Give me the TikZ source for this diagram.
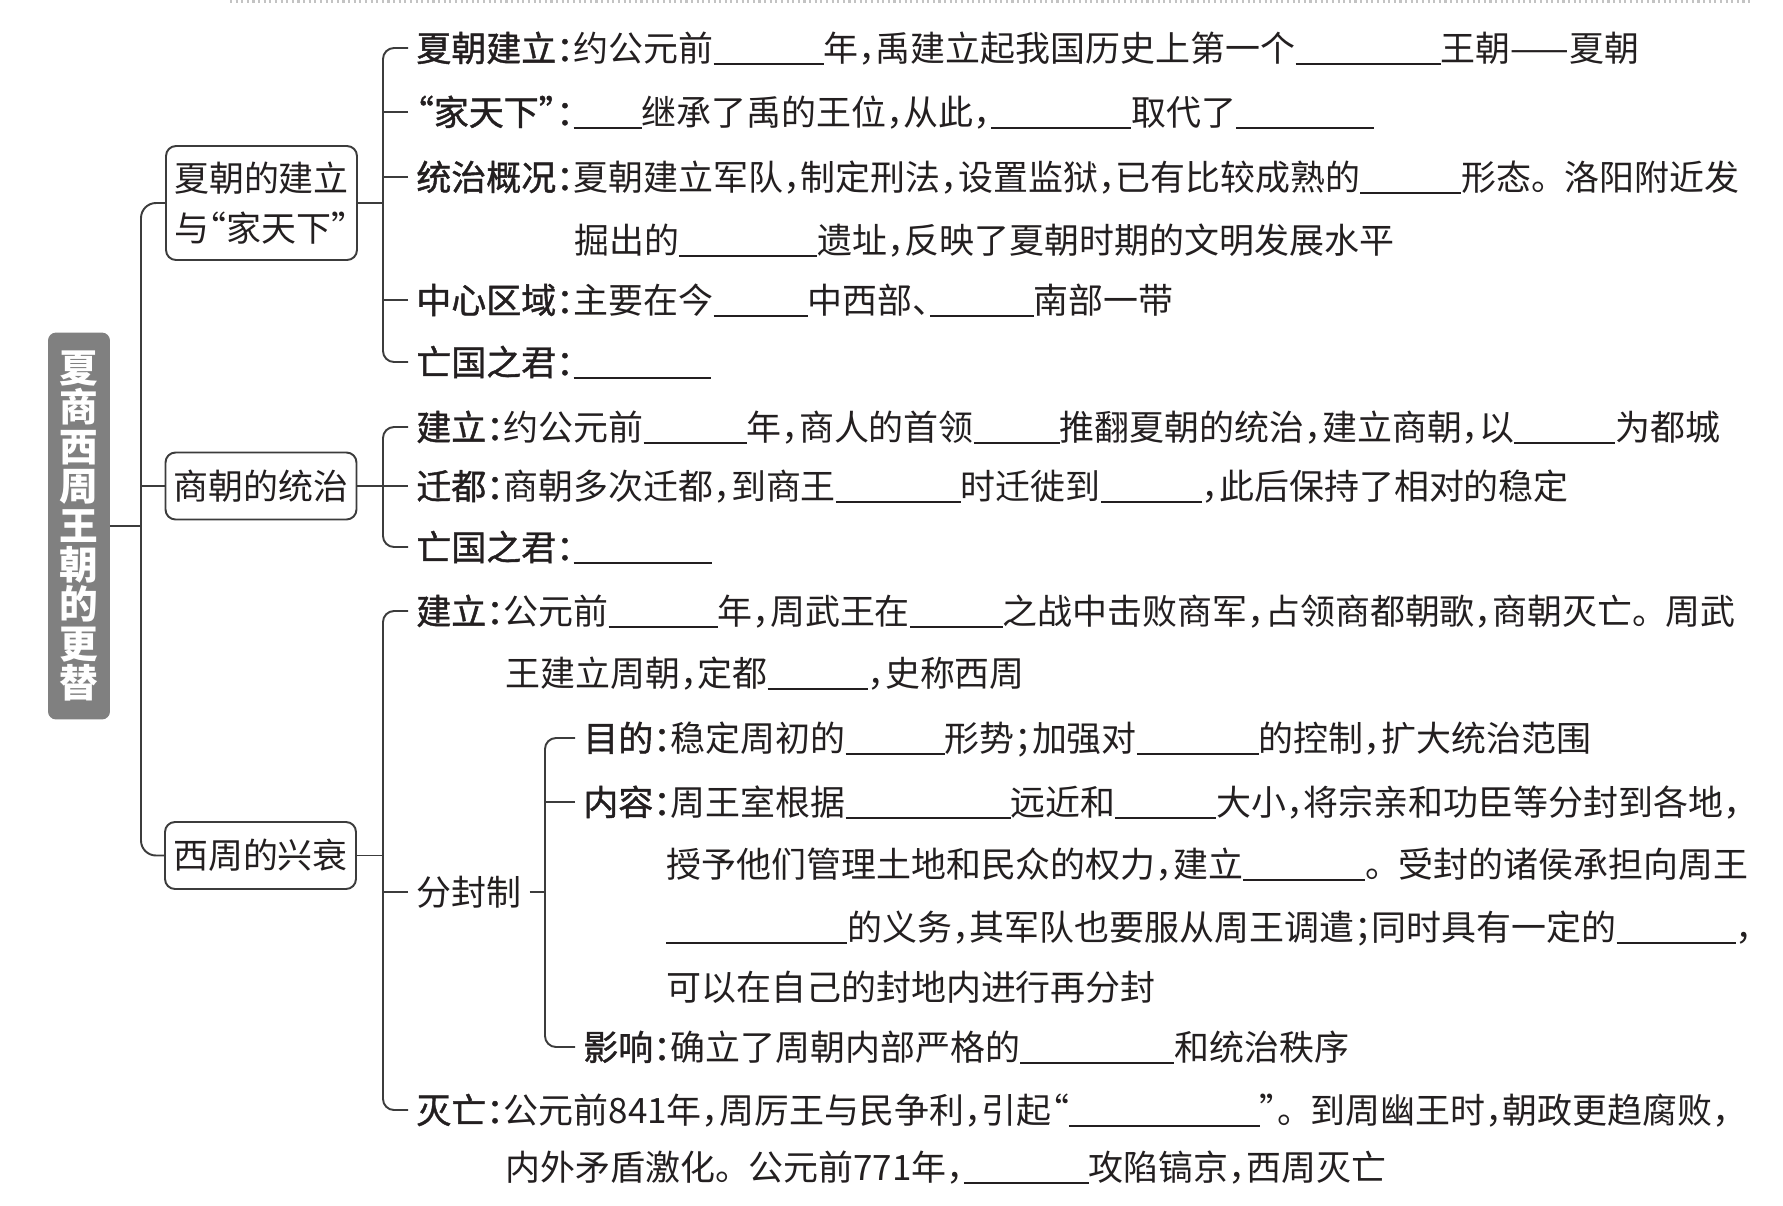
\documentclass[tikz,border=0pt]{standalone}
\usepackage{fontspec}
\setmainfont{Noto Sans CJK SC}[RawFeature=+halt]
\newfontfamily\lblfont{Noto Sans CJK SC}[RawFeature=+halt,FakeBold=1.2]
\usepackage{xcolor}
\definecolor{inkblack}{RGB}{35,31,32}
\definecolor{linegray}{RGB}{60,60,60}
\definecolor{ttlgray}{RGB}{128,128,128}
\definecolor{dotgray}{RGB}{195,195,195}
\usepackage{tikz}
\newlength\pxu
\setlength\pxu{0.02cm}
\newcommand\blank[1]{\rule[-0.1em]{#1\pxu}{0.8pt}}
\newcommand\dun{。\kern0.45em}
\newcommand\rowfont{\fontsize{19.9}{28.4}\selectfont}

\begin{document}
\begin{tikzpicture}[x=0.02cm, y=-0.02cm,
  branch/.style={draw=linegray, line width=1.1pt},
  topicbox/.style={draw=linegray, line width=1.1pt, fill=white, rounded corners=0.2cm,
    minimum width=3.82cm, minimum height=1.34cm, inner sep=0, font=\rowfont, text=inkblack},
  titlebox/.style={fill=ttlgray, text=white, rounded corners=0.16cm, align=center,
    minimum width=1.24cm, minimum height=7.74cm, inner sep=0,
    font=\bfseries\fontsize{22}{22.4}\selectfont},
  rowtext/.style={anchor=west, inner xsep=0.16cm, inner ysep=0, text height=17.5pt,
    text depth=2.4pt, font=\rowfont, text=inkblack},
  contline/.style={rowtext, inner xsep=0}]
\useasboundingbox (0,0) rectangle (1783,1205);

% === Top edge ===
\draw[dotgray, line width=1.2pt, dotted] (230,1.5) -- (1750,1.5);

% === Title ===
\node[titlebox] (title) at (79,526) {夏\\商\\西\\周\\王\\朝\\的\\更\\替};

% === Topic boxes ===
\node[topicbox, minimum height=2.28cm, align=left] (xia) at (261.5,203) {夏朝的建立\\与“家天下”};
\node[topicbox] (shang) at (261,486) {商朝的统治};
\node[topicbox] (zhou) at (260.5,855.5) {西周的兴衰};

\coordinate (trunk) at (141,0);
\coordinate (bus) at (383,0);
\coordinate (fbus) at (545,0);

% === Xia ===
\node[rowtext] (xia1) at (408,48) {{\lblfont 夏朝建立：}约公元前\blank{110}年，禹建立起我国历史上第一个\blank{145}王朝——夏朝};
\node[rowtext] (xia2) at (408,112) {{\lblfont “家天下”：}\blank{68}继承了禹的王位，从此，\blank{140}取代了\blank{138}};
\node[rowtext] (xia3) at (408,177) {{\lblfont 统治概况：}夏朝建立军队，制定刑法，设置监狱，已有比较成熟的\blank{101}形态\dun 洛阳附近发};
\node[contline] (xia3b) at (574,240) {掘出的\blank{138}遗址，反映了夏朝时期的文明发展水平};
\node[rowtext] (xia4) at (408,300) {{\lblfont 中心区域：}主要在今\blank{94}中西部、\blank{104}南部一带};
\node[rowtext] (xia5) at (408,362) {{\lblfont 亡国之君：}\blank{137}};

% === Shang ===
\node[rowtext] (shang1) at (408,427) {{\lblfont 建立：}约公元前\blank{103}年，商人的首领\blank{86}推翻夏朝的统治，建立商朝，以\blank{101}为都城};
\node[rowtext] (shang2) at (408,486) {{\lblfont 迁都：}商朝多次迁都，到商王\blank{125}时迁徙到\blank{101}，此后保持了相对的稳定};
\node[rowtext] (shang3) at (408,547) {{\lblfont 亡国之君：}\blank{138}};

% === Western Zhou ===
\node[rowtext] (zhou1) at (408,611) {{\lblfont 建立：}公元前\blank{109}年，周武王在\blank{93}之战中击败商军，占领商都朝歌，商朝灭亡\dun 周武};
\node[contline] (zhou1b) at (505,673) {王建立周朝，定都\blank{100}，史称西周};
\node[rowtext] (fenf) at (408,892) {分封制};
\node[rowtext] (fen1) at (575,738) {{\lblfont 目的：}稳定周初的\blank{99}形势；加强对\blank{122}的控制，扩大统治范围};
\node[rowtext] (fen2) at (575,802) {{\lblfont 内容：}周王室根据\blank{165}远近和\blank{101}大小，将宗亲和功臣等分封到各地，};
\node[contline] (fen2b) at (666,864) {授予他们管理土地和民众的权力，建立\blank{122}\dun 受封的诸侯承担向周王};
\node[contline] (fen2c) at (666,927) {\blank{181}的义务，其军队也要服从周王调遣；同时具有一定的\blank{119}，};
\node[contline] (fen2d) at (666,987) {可以在自己的封地内进行再分封};
\node[rowtext] (fen3) at (575,1047) {{\lblfont 影响：}确立了周朝内部严格的\blank{154}和统治秩序};
\node[rowtext] (zhou3) at (408,1110) {{\lblfont 灭亡：}公元前841年，周厉王与民争利，引起“\blank{191}”\dun 到周幽王时，朝政更趋腐败，};
\node[contline] (zhou3b) at (505,1167) {内外矛盾激化\dun 公元前771年，\blank{125}攻陷镐京，西周灭亡};

% === Trunk ===
\draw[branch, rounded corners=0.3cm] (xia.west) -- (xia.west -| trunk) -- (zhou.west -| trunk) -- (zhou.west);
\draw[branch] (shang.west) -- (shang.west -| trunk);
\draw[branch] (title.east) -- (title.east -| trunk);

% === Brackets ===
\draw[branch, rounded corners=0.22cm] (xia1.west) -- (xia1.west -| bus) -- (xia5.west -| bus) -- (xia5.west);
\foreach \n in {xia2,xia3,xia4}
  \draw[branch] (\n.west) -- (\n.west -| bus);
\draw[branch] (xia.east) -- (xia.east -| bus);

\draw[branch, rounded corners=0.22cm] (shang1.west) -- (shang1.west -| bus) -- (shang3.west -| bus) -- (shang3.west);
\draw[branch] (shang.east) -- (shang2.west);

\draw[branch, rounded corners=0.22cm] (zhou1.west) -- (zhou1.west -| bus) -- (zhou3.west -| bus) -- (zhou3.west);
\draw[branch] (zhou.east) -- (zhou.east -| bus);
\draw[branch] (fenf.west) -- (fenf.west -| bus);

\draw[branch, rounded corners=0.22cm] (fen1.west) -- (fen1.west -| fbus) -- (fen3.west -| fbus) -- (fen3.west);
\draw[branch] (fen2.west) -- (fen2.west -| fbus);
\draw[branch] (fenf.east) -- (fenf.east -| fbus);

\end{tikzpicture}
\end{document}
